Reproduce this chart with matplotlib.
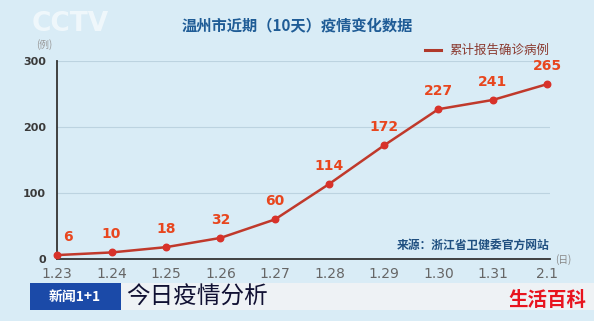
import matplotlib.pyplot as plt
from matplotlib.patches import Rectangle
import numpy as np

plt.rcParams['font.family'] = ['Noto Sans CJK SC', 'DejaVu Sans']

dates = ['1.23', '1.24', '1.25', '1.26', '1.27', '1.28', '1.29', '1.30', '1.31', '2.1']
cases = [6, 10, 18, 32, 60, 114, 172, 227, 241, 265]
yticks = [0, 100, 200, 300]

bg = '#d9ecf6'
fig = plt.figure(figsize=(5.94, 3.21), dpi=100, facecolor=bg)
ax = fig.add_axes([0.096, 0.193, 0.83, 0.617], facecolor=bg)

x = np.arange(len(dates))
ax.plot(x, cases, color='#c0392b', lw=1.8, zorder=3, clip_on=False)
ax.scatter(x, cases, s=22, color='#d8322a', zorder=4, clip_on=False)
for i, v in enumerate(cases):
    dx = 0.12 if i == 0 else 0
    ax.annotate(str(v), (x[i] + dx, v), xytext=(0, 8), textcoords='offset points',
                ha='left' if i == 0 else 'center', va='bottom', color='#e8461e',
                fontsize=10, fontweight='bold', family='DejaVu Sans')

ax.set_xlim(0, 9.05)
ax.set_ylim(0, 300)
ax.set_yticks(yticks)
ax.set_yticklabels([str(t) for t in yticks], fontsize=8, fontweight='bold',
                   color='#3a3a3a', family='DejaVu Sans')
ax.set_xticks(x)
ax.set_xticklabels(dates, fontsize=10, color='#666666', family='DejaVu Sans')
ax.tick_params(axis='both', length=0)
ax.tick_params(axis='x', pad=6)
ax.tick_params(axis='y', pad=8)
ax.grid(axis='y', color='#bcd3e0', lw=0.8)
for s in ['top', 'right']:
    ax.spines[s].set_visible(False)
ax.spines['left'].set_color('#333333')
ax.spines['bottom'].set_color('#333333')
ax.spines['left'].set_linewidth(1.3)
ax.spines['bottom'].set_linewidth(1.3)

# titles and labels
fig.text(0.5, 0.922, '温州市近期（10天）疫情变化数据', ha='center', va='center',
         fontsize=11, fontweight='bold', color='#1f5c96')
fig.add_artist(plt.Line2D([0.716, 0.743], [0.843, 0.843], color='#b0392b', lw=2.2))
fig.text(0.757, 0.843, '累计报告确诊病例', ha='left', va='center', fontsize=9,
         color='#8a3a30')
fig.text(0.925, 0.237, '来源：浙江省卫健委官方网站', ha='right', va='center',
         fontsize=8.5, fontweight='bold', color='#1f4f80')
fig.text(0.934, 0.193, '(日)', ha='left', va='center', fontsize=7, color='#888888')
fig.text(0.075, 0.86, '(例)', ha='center', va='center', fontsize=7, color='#999999')
fig.text(0.118, 0.925, 'CCTV', ha='center', va='center', fontsize=19, fontweight='bold',
         color='white', alpha=0.6, family='DejaVu Sans')

# bottom banner
fig.add_artist(Rectangle((0.20, 0.034), 0.80, 0.084, transform=fig.transFigure,
                         facecolor='#eef2f5', edgecolor='none'))
fig.add_artist(Rectangle((0.05, 0.034), 0.153, 0.084, transform=fig.transFigure,
                         facecolor='#1b4aa8', edgecolor='none'))
fig.text(0.126, 0.076, '新闻1+1', ha='center', va='center', fontsize=10,
         fontweight='bold', color='white')
fig.text(0.213, 0.074, '今日疫情分析', ha='left', va='center', fontsize=17,
         color='#111133')
fig.text(0.988, 0.065, '生活百科', ha='right', va='center', fontsize=14,
         fontweight='bold', color='#e8141e')

fig.savefig('out.png', dpi=100, facecolor=bg)
